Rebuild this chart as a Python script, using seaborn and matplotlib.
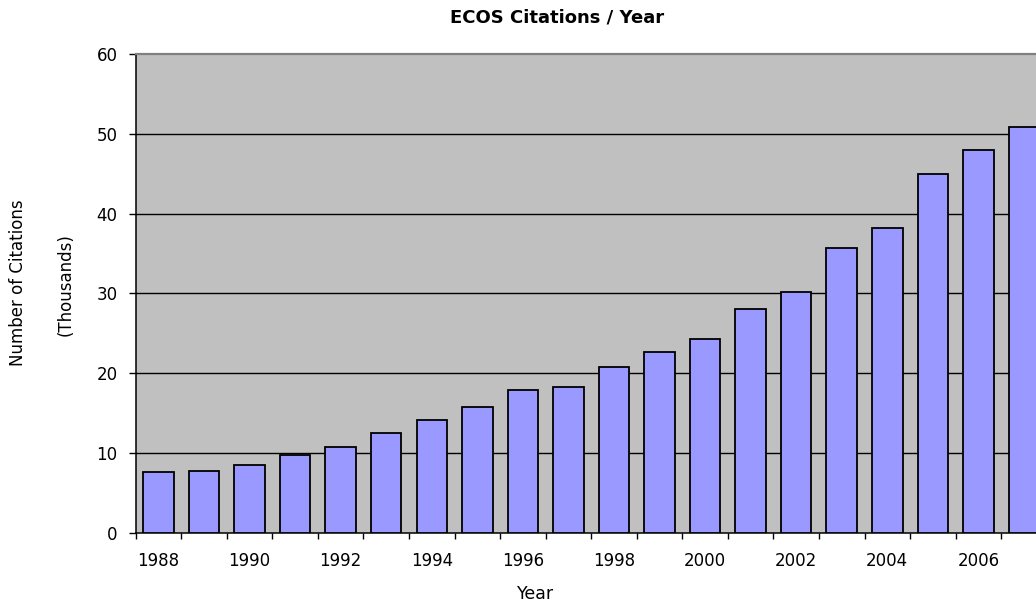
import numpy as np
import pandas as pd
import matplotlib
matplotlib.use("Agg")
import matplotlib.pyplot as plt
import seaborn as sns

# Annual citation counts (thousands)
years = [str(y) for y in range(1988, 2008)]
citations = [7.55, 7.75, 8.5, 9.75, 10.7, 12.55, 14.15, 15.7, 17.9, 18.2,
             20.8, 22.65, 24.3, 28.0, 30.2, 35.7, 38.25, 44.9, 48.0, 50.9]
label_years = years[::2]
y_ticks = [0, 10, 20, 30, 40, 50, 60]

sns.set_style("white")
plt.rcParams["font.family"] = ["DejaVu Sans"]
plt.rcParams["text.color"] = "black"
plt.rcParams["xtick.color"] = "black"
plt.rcParams["ytick.color"] = "black"
plt.rcParams["axes.labelcolor"] = "black"

df = pd.DataFrame({"Year": years, "Citations": citations})

fig = plt.figure(figsize=(10.36, 6.06), dpi=100)
W, H = 1036, 606
# plot area runs slightly past the right edge of the canvas
ax = fig.add_axes([135.7 / W, (H - 532.7) / H, 911 / W, 478.7 / H])
ax.set_facecolor("#C0C0C0")

sns.barplot(data=df, x="Year", y="Citations", color="#9999FF", saturation=1,
            width=0.67, edgecolor="black", linewidth=1.3, ax=ax, zorder=3)

ax.set_xlim(-0.5, len(years) - 0.5)
ax.set_ylim(0, 60)

# horizontal gridlines behind the bars
for v in y_ticks[1:-1]:
    ax.axhline(v, color="black", lw=1.0, zorder=1)

# y axis
ax.set_yticks(y_ticks)
ax.set_yticklabels([str(v) for v in y_ticks])
ax.tick_params(axis="y", which="major", direction="out", length=5, width=1,
               color="black", labelcolor="black", pad=8, labelsize=12,
               left=True)

# x axis: tick marks between categories, labels centred on every other bar
ax.set_xticks(np.arange(-0.5, len(years), 1.0))
ax.set_xticklabels([])
ax.tick_params(axis="x", which="major", direction="out", length=4.3, width=1,
               color="black", bottom=True)
label_pos = [years.index(y) for y in label_years]
ax.set_xticks(label_pos, minor=True)
ax.set_xticklabels(label_years, minor=True)
ax.tick_params(axis="x", which="minor", length=0, pad=14, labelsize=12,
               labelcolor="black")

ax.set_xlabel("")
ax.set_ylabel("")

for side in ["left", "bottom"]:
    ax.spines[side].set_visible(True)
    ax.spines[side].set_color("black")
    ax.spines[side].set_linewidth(1.1)
ax.spines["top"].set_visible(True)
ax.spines["top"].set_color("#808080")
ax.spines["top"].set_linewidth(1.6)
ax.spines["right"].set_visible(False)

fig.text(557 / W, 1 - 17 / H, "ECOS Citations / Year", ha="center", va="center",
         fontsize=13, fontweight="bold", color="black")
fig.text(536 / W, 1 - 594 / H, "Year", ha="center", va="center", fontsize=12.5,
         color="black")
fig.text(18.5 / W, 1 - 283 / H, "Number of Citations", ha="center", va="center",
         rotation=90, fontsize=12, color="black")
fig.text(65.5 / W, 1 - 285 / H, "(Thousands)", ha="center", va="center",
         rotation=90, fontsize=12, color="black")

fig.savefig("out.png", dpi=100)
